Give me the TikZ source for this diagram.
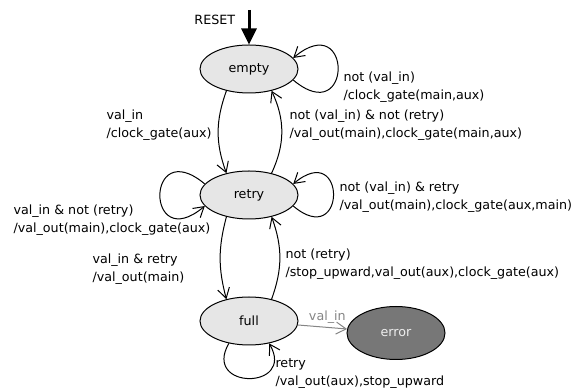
\documentclass[tikz,border=0pt]{standalone}
\usepackage{fontspec}
\setmainfont{DejaVu Sans}
\usetikzlibrary{shapes.geometric, arrows.meta}
\definecolor{statefill}{HTML}{E6E6E6}
\definecolor{errfill}{HTML}{777777}
\definecolor{errtext}{HTML}{EEEEEE}
\definecolor{grayedge}{HTML}{858585}
\begin{document}
\begin{tikzpicture}[x=1pt, y=1pt, node distance=126pt, line width=1pt, >={Straight Barb[length=10pt,width=12pt]},
    every node/.style={font=\fontsize{12.7}{18}\selectfont},
    state node/.style={ellipse, draw, fill=statefill, minimum width=98pt, minimum height=48pt},
    error node/.style={ellipse, draw, fill=errfill, text=errtext, minimum width=98pt, minimum height=53pt},
    lbl/.style={align=left, anchor=west, inner sep=0pt}]
    \useasboundingbox (0,0) rectangle (576,390);
    \node[state node](empty) at (249,321){empty};
    \node[state node](retry)[below of=empty]{retry};
    \node[state node](full)[below of=retry]{full};
    \node[error node](error)[right of=full, xshift=21pt, yshift=-12pt]{error};
    \coordinate (reset) at (249,380);
    \node[anchor=east](resetlbl) at (239,370){RESET};

    \node[lbl](l1) at (343,303){not (val\_in)\\/clock\_gate(main,aux)};
    \node[lbl](l2) at (106,264.5){val\_in\\/clock\_gate(aux)};
    \node[lbl](l3) at (289,264.5){not (val\_in) \& not (retry)\\/val\_out(main),clock\_gate(main,aux)};
    \node[lbl](l4) at (13,169.5){val\_in \& not (retry)\\/val\_out(main),clock\_gate(aux)};
    \node[lbl](l5) at (339,192.5){not (val\_in) \& retry\\/val\_out(main),clock\_gate(aux,main)};
    \node[lbl](l6) at (92,121){val\_in \& retry\\/val\_out(main)};
    \node[lbl](l7) at (285,126){not (retry)\\/stop\_upward,val\_out(aux),clock\_gate(aux)};
    \node[lbl](l8) at (275,16.5){retry\\/val\_out(aux),stop\_upward};

\draw[line width=3pt, -{Triangle[length=16pt,width=15pt]}] (reset) -- (empty);
\draw[->] (empty.224) to[out=250, in=110] (retry.136);
\draw[->] (retry.44) to[out=65, in=295] (empty.316);
\draw[->] (retry.224) to[out=255, in=105] (full.136);
\draw[->] (full.44) to[out=70, in=290] (retry.316);
\draw[->] (empty.346) .. controls +(320:78) and +(40:78) .. (empty.14);
\draw[->] (retry.166) .. controls +(140:78) and +(220:78) .. (retry.194);
\draw[->] (retry.346) .. controls +(320:70) and +(40:70) .. (retry.14);
\draw[->] (full.228) .. controls +(240:54) and +(300:54) .. (full.312);
\draw[->, grayedge] (full) -- node[above, pos=0.6, text=grayedge](l9){val\_in} (error);
\end{tikzpicture}
\end{document}
